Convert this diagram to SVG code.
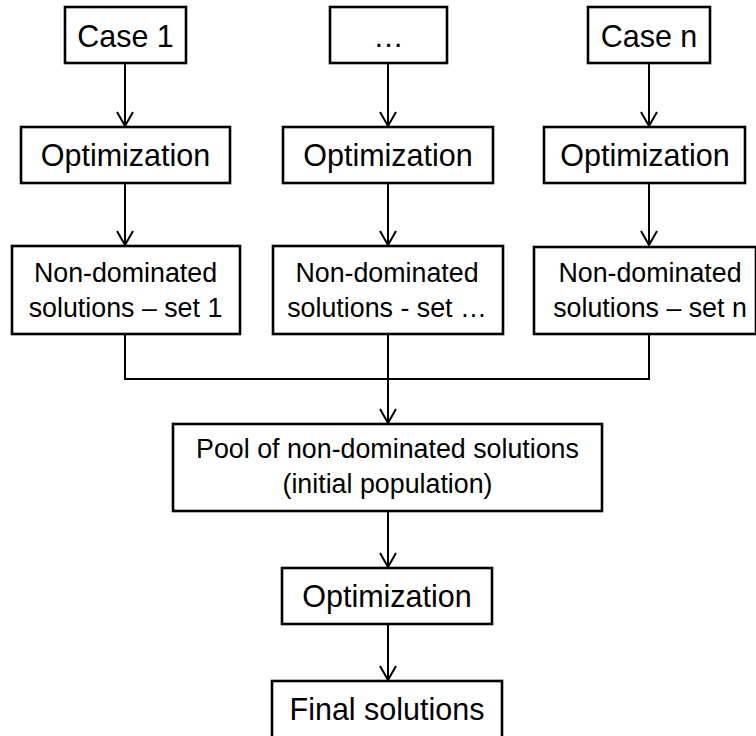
<svg xmlns="http://www.w3.org/2000/svg" width="756" height="736" viewBox="0 0 756 736">
<defs>
<style>
.box{fill:#fff;stroke:#000;stroke-width:2.6}
.t{font-family:"Liberation Sans",Arial,sans-serif;fill:#000;text-anchor:middle}
.big{font-size:30.5px}
.sm{font-size:26.8px}
.c{fill:none;stroke:#000;stroke-width:2}
</style>
<marker id="ah" markerUnits="userSpaceOnUse" viewBox="-16 -10 20 20" markerWidth="20" markerHeight="20" refX="0" refY="0" orient="auto" overflow="visible">
<path d="M-14,-8 L0,0 L-14,8" fill="none" stroke="#000" stroke-width="2"/>
</marker>
</defs>
<rect width="756" height="736" fill="#fff"/>
<g id="connectors">
<line class="c" x1="125" y1="63" x2="125" y2="126" marker-end="url(#ah)"/>
<line class="c" x1="388" y1="63" x2="388" y2="126" marker-end="url(#ah)"/>
<line class="c" x1="649" y1="63" x2="649" y2="126" marker-end="url(#ah)"/>
<line class="c" x1="125" y1="183" x2="125" y2="245" marker-end="url(#ah)"/>
<line class="c" x1="388" y1="183" x2="388" y2="245" marker-end="url(#ah)"/>
<line class="c" x1="649" y1="183" x2="649" y2="245" marker-end="url(#ah)"/>
<polyline class="c" points="125,334 125,379 649,379 649,334"/>
<line class="c" x1="388" y1="334" x2="388" y2="423" marker-end="url(#ah)"/>
<line class="c" x1="388" y1="511" x2="388" y2="567" marker-end="url(#ah)"/>
<line class="c" x1="388" y1="624" x2="388" y2="680" marker-end="url(#ah)"/>
</g>
<g id="case1">
<rect class="box" x="65" y="7" width="121" height="56"/>
<text class="t big" x="125.5" y="47">Case 1</text>
</g>
<g id="caseDots">
<rect class="box" x="330" y="7" width="117" height="56"/>
<text class="t big" x="388.5" y="47">…</text>
</g>
<g id="caseN">
<rect class="box" x="588" y="7" width="122" height="56"/>
<text class="t big" x="649" y="47">Case n</text>
</g>
<g id="opt1">
<rect class="box" x="21" y="127" width="209" height="56"/>
<text class="t big" x="125.5" y="166">Optimization</text>
</g>
<g id="opt2">
<rect class="box" x="283" y="127" width="210" height="56"/>
<text class="t big" x="388" y="166">Optimization</text>
</g>
<g id="optN">
<rect class="box" x="544" y="127" width="201" height="56"/>
<text class="t big" x="645" y="166">Optimization</text>
</g>
<g id="nd1">
<rect class="box" x="12" y="246" width="228" height="88"/>
<text class="t sm" x="125.5" y="282">Non-dominated</text>
<text class="t sm" x="125.5" y="317">solutions – set 1</text>
</g>
<g id="nd2">
<rect class="box" x="273" y="246" width="230" height="88"/>
<text class="t sm" x="387" y="282">Non-dominated</text>
<text class="t sm" x="387" y="317">solutions - set …</text>
</g>
<g id="ndN">
<rect class="box" x="534" y="247" width="222" height="87"/>
<text class="t sm" x="650" y="282">Non-dominated</text>
<text class="t sm" x="650" y="317">solutions – set n</text>
</g>
<g id="pool">
<rect class="box" x="173" y="424" width="429" height="87"/>
<text class="t sm" x="387.5" y="458">Pool of non-dominated solutions</text>
<text class="t sm" x="387.5" y="493">(initial population)</text>
</g>
<g id="optFinal">
<rect class="box" x="282" y="568" width="210" height="56"/>
<text class="t big" x="387" y="607">Optimization</text>
</g>
<g id="final">
<rect class="box" x="272" y="681" width="230" height="62"/>
<text class="t big" x="387" y="720">Final solutions</text>
</g>
</svg>
